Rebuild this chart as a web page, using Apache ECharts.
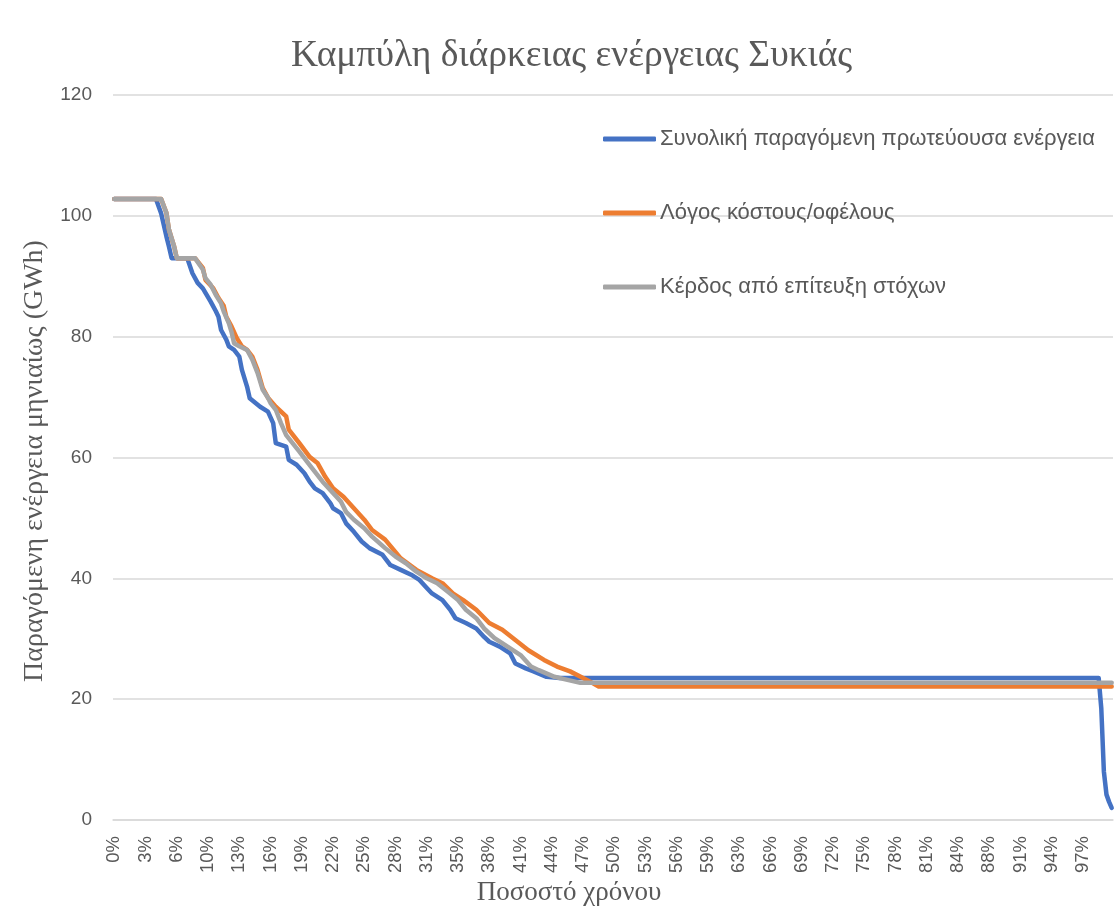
<!DOCTYPE html>
<html>
<head>
<meta charset="utf-8">
<script src="https://cdn.jsdelivr.net/npm/echarts@6/dist/echarts.min.js"></script>
<style>
html,body{margin:0;padding:0;background:#fff;}
#chart{width:1115px;height:911px;}
</style>
</head>
<body>
<div id="chart"></div>
<script>
// ---- DATA ----
const titleText = 'Καμπύλη διάρκειας ενέργειας Συκιάς';
const yAxisTitle = 'Παραγόμενη ενέργεια μηνιαίως (GWh)';
const xAxisTitle = 'Ποσοστό χρόνου';
const seriesNames = ['Συνολική παραγόμενη πρωτεύουσα ενέργεια', 'Λόγος κόστους/οφέλους', 'Κέρδος από επίτευξη στόχων'];
const seriesColors = ['#4472C4', '#ED7D31', '#A5A5A5'];
const monthCount = 384; // ranked months on the category axis
const tickLabels = ['0%','3%','6%','10%','13%','16%','19%','22%','25%','28%','31%','35%','38%','41%','44%','47%',
  '50%','53%','56%','59%','63%','66%','69%','72%','75%','78%','81%','84%','88%','91%','94%','97%'];

// rank (1-based) and value (GWh)
const totalRank = [1,17,19,21,22,23,29,31,33,35,38,40,41,42,44,45,47,49,50,52,53,57,60,62,63,67,68,71,74,76,78,81,84,85,88,90,93,96,99,104,107,111,115,118,121,123,127,130,132,136,140,143,145,149,153,155,159,162,167,172,379,380,381,382,383,384];
const totalValue = [102.8,102.8,100.4,96.6,94.9,93.0,93.0,90.5,88.9,88.0,85.8,84.2,83.3,81.1,79.5,78.4,77.8,76.7,74.5,71.7,69.8,68.4,67.6,65.7,62.4,61.8,59.6,58.8,57.4,56.0,54.9,54.1,52.4,51.6,50.8,49.1,47.7,46.1,45.0,43.9,42.2,41.4,40.6,39.8,38.4,37.5,36.4,34.8,33.4,32.6,31.7,30.3,29.5,28.7,27.6,25.9,25.1,24.6,23.7,23.5,23.5,18.5,8.0,4.2,3.0,2.0];

const costRank = [1,19,21,22,24,25,32,35,36,39,41,43,44,46,48,50,52,54,56,58,60,63,67,68,72,76,79,82,85,89,93,97,100,105,111,117,123,127,131,135,140,145,150,155,160,166,171,176,181,185,187,384];
const costValue = [102.8,102.8,100.5,97.7,94.9,93.0,93.0,91.4,89.4,88.0,86.4,85.1,83.3,81.7,79.8,78.4,77.8,76.7,74.5,71.5,69.9,68.4,66.8,64.6,62.4,60.1,59.1,56.8,54.9,53.5,51.6,49.7,48.0,46.4,43.3,41.4,40.0,39.2,37.5,36.4,34.8,32.6,31.5,29.8,28.1,26.5,25.4,24.6,23.5,22.6,22.1,22.1];

const targetRank = [1,19,21,22,24,25,32,35,36,38,40,42,43,45,46,47,49,52,54,56,58,60,61,63,65,67,70,72,75,77,81,84,88,90,93,97,100,105,109,113,117,121,125,129,133,136,140,143,147,152,157,161,164,170,175,180,384];
const targetValue = [102.8,102.8,100.5,97.7,94.9,93.0,93.0,91.1,89.7,88.6,86.9,85.5,84.2,82.2,80.8,78.9,78.4,77.8,76.2,74.0,71.2,69.9,69.0,67.9,65.7,63.7,62.1,61.0,59.3,58.2,56.0,54.6,52.7,51.0,49.7,48.3,46.9,45.0,43.6,42.5,41.1,40.0,39.2,37.8,36.4,34.8,33.4,31.7,30.1,28.7,27.3,25.4,24.8,23.7,23.2,22.7,22.7];

// ---- BUILD ----
const categories = [];
for (let r = 1; r <= monthCount; r++) categories.push(String(r));
function pairs(ranks, values) { return ranks.map((r, k) => [r - 1, values[k]]); }
const allRanks = [totalRank, costRank, targetRank];
const allValues = [totalValue, costValue, targetValue];

const labelColor = '#595959';
const sansFont = '"Liberation Sans", Arial, sans-serif';
const serifFont = '"Liberation Serif", "Times New Roman", serif';

const chart = echarts.init(document.getElementById('chart'), null, {renderer: 'canvas'});
chart.setOption({
  animation: false,
  backgroundColor: '#ffffff',
  title: {
    text: titleText,
    left: 291,
    top: 37,
    padding: 0,
    textStyle: {fontFamily: serifFont, fontSize: 37.5, fontWeight: 'normal', color: labelColor}
  },
  legend: {
    orient: 'vertical',
    left: 603,
    top: 128,
    padding: 0,
    itemWidth: 53,
    itemHeight: 5,
    itemGap: 52,
    icon: 'roundRect',
    textStyle: {fontFamily: sansFont, fontSize: 22, color: labelColor, padding: [0,0,0,-1]},
    data: seriesNames
  },
  grid: {left: 113, right: 2, top: 95, bottom: 91, containLabel: false},
  xAxis: {
    type: 'category',
    data: categories,
    boundaryGap: true,
    axisLine: {show: true, lineStyle: {color: '#D9D9D9', width: 1.5}},
    axisTick: {show: false},
    axisLabel: {
      interval: 11,
      rotate: 90,
      margin: 16,
      fontFamily: sansFont,
      fontSize: 18.5,
      color: labelColor,
      formatter: function (v, idx) { return tickLabels[Math.round(idx / 12)] || ''; }
    },
    splitLine: {show: false}
  },
  yAxis: {
    type: 'value',
    min: 0, max: 120, interval: 20,
    axisLine: {show: false},
    axisTick: {show: false},
    axisLabel: {margin: 21, fontFamily: sansFont, fontSize: 19, color: labelColor},
    splitLine: {lineStyle: {color: '#D9D9D9', width: 1.5}}
  },
  graphic: [
    {type: 'text', x: 35, y: 461, rotation: Math.PI / 2,
      style: {text: yAxisTitle, font: '28px ' + serifFont, fill: labelColor, align: 'center', verticalAlign: 'middle'}},
    {type: 'text', x: 569, y: 893,
      style: {text: xAxisTitle, font: '27px ' + serifFont, fill: labelColor, align: 'center', verticalAlign: 'middle'}}
  ],
  series: seriesNames.map((name, s) => ({
    name: name,
    type: 'line',
    data: pairs(allRanks[s], allValues[s]),
    showSymbol: false,
    symbol: 'none',
    lineStyle: {color: seriesColors[s], width: 4.5, cap: 'round', join: 'round'},
    itemStyle: {color: seriesColors[s]},
    z: 2 + s
  }))
});
</script>
</body>
</html>
